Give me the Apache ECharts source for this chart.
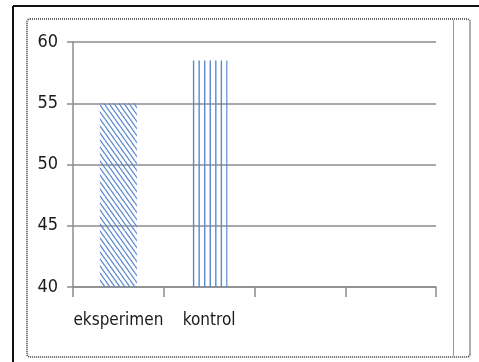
<!DOCTYPE html>
<html>
<head>
<meta charset="utf-8">
<script src="https://cdn.jsdelivr.net/npm/echarts@6/dist/echarts.min.js"></script>
<style>
  html, body { margin: 0; padding: 0; background: #fff; }
  #chart { width: 479px; height: 362px; }
</style>
</head>
<body>
<div id="chart"></div>
<script>
// Categories along the x axis (two empty slots follow the two groups)
const categories = ['eksperimen', 'kontrol', '', ''];
// Mean scores per group
const eksperimenValues = [55, null, null, null];
const kontrolValues = [null, 58.5, null, null];
// Value axis range
const yMin = 40, yMax = 60, yStep = 5;

const BLUE = '#5a89cf';
const FONT = '"DejaVu Sans Condensed", "Liberation Sans Narrow", sans-serif';

// Diagonal hatching tile ("\" direction)
function diagonalTile() {
  const w = 5, h = 7;
  const c = document.createElement('canvas');
  c.width = w; c.height = h;
  const ctx = c.getContext('2d');
  ctx.strokeStyle = BLUE;
  ctx.lineWidth = 1.3;
  for (let k = -1; k <= 1; k++) {
    ctx.beginPath();
    ctx.moveTo(k * w, 0);
    ctx.lineTo(k * w + w, h);
    ctx.stroke();
  }
  return c;
}

// Vertical line tile: nine lines evenly spread over 50px
function verticalTile() {
  const w = 50, n = 9;
  const c = document.createElement('canvas');
  c.width = w; c.height = 4;
  const ctx = c.getContext('2d');
  ctx.fillStyle = BLUE;
  for (let k = 0; k < n; k++) {
    ctx.fillRect(k * w / n, 0, 1.4, 4);
  }
  return c;
}

const chart = echarts.init(document.getElementById('chart'), null, { renderer: 'canvas' });

chart.setOption({
  animation: false,
  backgroundColor: '#fff',
  grid: { left: 73, right: 43, top: 42, bottom: 75 },
  xAxis: {
    type: 'category',
    data: categories,
    boundaryGap: true,
    axisLine: { lineStyle: { color: '#8c8c8c', width: 1.5 } },
    axisTick: { show: true, interval: 0, length: 10, lineStyle: { color: '#8c8c8c', width: 1.5 } },
    axisLabel: { interval: 0, color: '#1a1a1a', fontFamily: FONT, fontSize: 17, margin: 25 }
  },
  yAxis: {
    type: 'value',
    min: yMin, max: yMax, interval: yStep,
    axisLine: { show: true, lineStyle: { color: '#8c8c8c', width: 1.5 } },
    axisTick: { show: true, length: 6, lineStyle: { color: '#8c8c8c', width: 1.5 } },
    splitLine: { show: true, lineStyle: { color: '#8c8c8c', width: 1.5 } },
    axisLabel: { color: '#1a1a1a', fontFamily: FONT, fontSize: 18, margin: 15 }
  },
  series: [
    {
      name: 'eksperimen',
      type: 'bar',
      data: eksperimenValues,
      barWidth: 37,
      barGap: '-100%',
      itemStyle: { color: { image: diagonalTile(), repeat: 'repeat' } }
    },
    {
      name: 'kontrol',
      type: 'bar',
      data: kontrolValues,
      barWidth: 37,
      itemStyle: { color: { image: verticalTile(), repeat: 'repeat', x: 4 } }
    }
  ],
  graphic: [
    // outer frame edges
    { type: 'line', silent: true, shape: { x1: 13, y1: 6, x2: 479, y2: 6 }, style: { stroke: '#111', lineWidth: 2 } },
    { type: 'line', silent: true, shape: { x1: 13, y1: 6, x2: 13, y2: 362 }, style: { stroke: '#111', lineWidth: 2 } },
    // dotted chart-area border
    { type: 'rect', silent: true, shape: { x: 27, y: 19, width: 443, height: 338, r: 3 },
      style: { fill: null, stroke: '#333', lineWidth: 1.6, lineDash: [1, 1] } },
    // right divider
    { type: 'line', silent: true, shape: { x1: 453.5, y1: 20, x2: 453.5, y2: 356 }, style: { stroke: '#999', lineWidth: 1 } }
  ]
});
</script>
</body>
</html>
